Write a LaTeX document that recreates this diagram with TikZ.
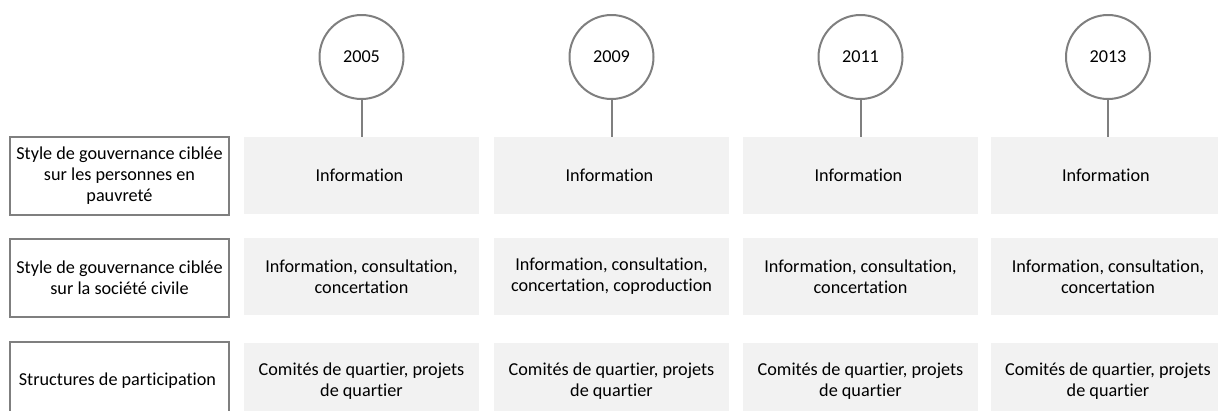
\documentclass[tikz,border=0pt]{standalone}
\usepackage{fontspec}
\setmainfont{Carlito}[Ligatures=NoCommon]
\definecolor{rimgray}{HTML}{7F7F7F}
\definecolor{cellgray}{HTML}{F2F2F2}
\begin{document}
\begin{tikzpicture}[x=1pt,y=-1pt,
        font=\fontsize{18.2}{21}\selectfont,
        yearnode/.style={circle,draw=rimgray,line width=2pt,fill=white,minimum size=84pt,inner sep=0pt},
        rowlabel/.style={draw=rimgray,line width=2pt,fill=white,minimum width=219pt,minimum height=78pt,align=center,inner sep=0pt},
        cell/.style={fill=cellgray,minimum width=235pt,minimum height=77pt,align=center,inner sep=0pt},
        stem/.style={draw=rimgray,line width=2pt}]

        \useasboundingbox (0,0) rectangle (1218,410);

        % years
        \node[yearnode] (Y1) at (361.5, 57) { 2005 };
        \node[yearnode] (Y2) at (611.5, 57) { 2009 };
        \node[yearnode] (Y3) at (860.5, 57) { 2011 };
        \node[yearnode] (Y4) at (1108, 57) { 2013 };

        % row labels
        \node[rowlabel] (L1) at (119.5, 176) { Style de gouvernance ciblée\\sur les personnes en\\pauvreté };
        \node[rowlabel] (L2) at (119.5, 277.5) { Style de gouvernance ciblée\\sur la société civile };
        \node[rowlabel] (L3) at (119.5, 381) { Structures de participation };

        % cells
        \node[cell] (A1) at (361.5, 175.5) { Information };
        \node[cell] (B1) at (611.5, 175.5) { Information };
        \node[cell] (C1) at (860.5, 175.5) { Information };
        \node[cell] (D1) at (1108, 175.5) { Information };

        \node[cell] (A2) at (361.5, 276.5) { Information, consultation,\\concertation };
        \node[cell] (B2) at (611.5, 276.5) { Information, consultation,\\concertation, coproduction };
        \node[cell] (C2) at (860.5, 276.5) { Information, consultation,\\concertation };
        \node[cell] (D2) at (1108, 276.5) { Information, consultation,\\concertation };

        \node[cell] (A3) at (361.5, 381) { Comités de quartier, projets\\de quartier };
        \node[cell] (B3) at (611.5, 381) { Comités de quartier, projets\\de quartier };
        \node[cell] (C3) at (860.5, 381) { Comités de quartier, projets\\de quartier };
        \node[cell] (D3) at (1108, 381) { Comités de quartier, projets\\de quartier };

        \draw[stem] (Y1) -- (A1);
        \draw[stem] (Y2) -- (B1);
        \draw[stem] (Y3) -- (C1);
        \draw[stem] (Y4) -- (D1);

    \end{tikzpicture}
\end{document}
